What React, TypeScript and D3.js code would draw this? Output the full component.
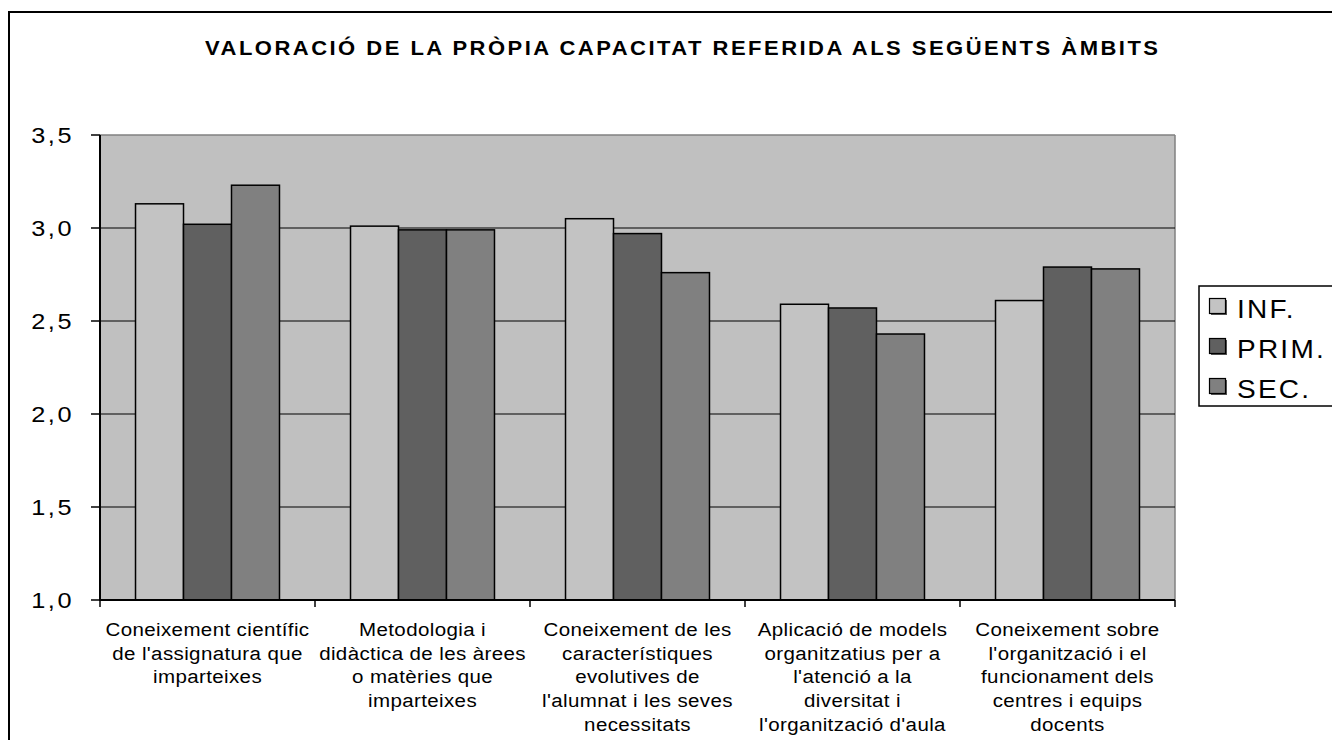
import React from "react";
import * as d3 from "d3";

const TITLE = "VALORACIÓ DE LA PRÒPIA CAPACITAT REFERIDA ALS SEGÜENTS ÀMBITS";
const categories = ["c1", "c2", "c3", "c4", "c5"];
const categoryLabels: string[][] = [
  ["Coneixement científic", "de l'assignatura que", "imparteixes"],
  ["Metodologia i", "didàctica de les àrees", "o matèries que", "imparteixes"],
  ["Coneixement de les", "característiques", "evolutives de", "l'alumnat i les seves", "necessitats"],
  ["Aplicació de models", "organitzatius per a", "l'atenció a la", "diversitat i", "l'organització d'aula"],
  ["Coneixement sobre", "l'organització i el", "funcionament dels", "centres i equips", "docents"],
];
const seriesNames = ["INF.", "PRIM.", "SEC."];
const infValues = [3.13, 3.01, 3.05, 2.59, 2.61];
const primValues = [3.02, 2.99, 2.97, 2.57, 2.79];
const secValues = [3.23, 2.99, 2.76, 2.43, 2.78];
const seriesColors = ["#c3c3c3", "#606060", "#808080"];
const yTicks = [1.0, 1.5, 2.0, 2.5, 3.0, 3.5];

export default function App() {
  const W = 1332, H = 740;
  const left = 100, right = 1175, top = 135, bottom = 600;
  const seriesValues = [infValues, primValues, secValues];

  const x0 = d3.scaleBand<string>().domain(categories).range([left, right]).padding(0);
  const x1 = d3.scaleBand<string>().domain(seriesNames).range([0, x0.bandwidth()]).paddingInner(0).paddingOuter(0.74);
  const y = d3.scaleLinear().domain([1, 3.5]).range([bottom, top]);
  const fmt = (v: number) => d3.format(".1f")(v).replace(".", ",");

  const font = "'Liberation Sans', Arial, sans-serif";
  const titleStretch = 1.1;

  return (
    <svg width={W} height={H} style={{ position: "absolute", left: 0, top: 0, background: "#fff" }} fontFamily={font}>
      {/* outer frame */}
      <rect x={9} y={12} width={1400} height={800} fill="none" stroke="#000" strokeWidth={2} />

      {/* title */}
      <g transform={`translate(205,55) scale(${titleStretch},1)`}>
        <text x={0} y={0} fontSize={20} fontWeight="bold" textLength={953 / titleStretch} lengthAdjust="spacing" fill="#000">
          {TITLE}
        </text>
      </g>

      {/* plot background */}
      <rect x={left} y={top} width={right - left} height={bottom - top} fill="#c0c0c0" />
      <line x1={left} x2={right} y1={top} y2={top} stroke="#808080" strokeWidth={1.5} />
      <line x1={right} x2={right} y1={top} y2={bottom} stroke="#808080" strokeWidth={1.5} />

      {/* gridlines */}
      {yTicks.filter((t) => t > 1 && t < 3.5).map((t) => (
        <line key={"g" + t} x1={left} x2={right} y1={y(t)} y2={y(t)} stroke="#000" strokeWidth={1.2} />
      ))}

      {/* bars */}
      {categories.map((c, ci) => (
        <g key={c} transform={`translate(${x0(c)},0)`}>
          {seriesNames.map((s, si) => {
            const v = seriesValues[si][ci];
            return (
              <rect
                key={s}
                x={x1(s)}
                y={y(v)}
                width={x1.bandwidth()}
                height={y(1) - y(v)}
                fill={seriesColors[si]}
                stroke="#000"
                strokeWidth={1.5}
              />
            );
          })}
        </g>
      ))}

      {/* y axis */}
      <line x1={left} x2={left} y1={top} y2={bottom + 1} stroke="#000" strokeWidth={2} />
      {yTicks.map((t) => (
        <g key={"t" + t}>
          <line x1={left - 9} x2={left} y1={y(t)} y2={y(t)} stroke="#000" strokeWidth={1.5} />
          <g transform={`translate(74,${y(t) + 8}) scale(1.15,1)`}>
            <text x={0} y={0} textAnchor="end" fontSize={22} letterSpacing={2.2} fill="#000">
              {fmt(t)}
            </text>
          </g>
        </g>
      ))}

      {/* x axis */}
      <line x1={left} x2={right} y1={bottom} y2={bottom} stroke="#000" strokeWidth={2} />
      {[...categories.map((c) => x0(c) as number), right].map((xv, i) => (
        <line key={"xt" + i} x1={xv} x2={xv} y1={bottom} y2={bottom + 7} stroke="#000" strokeWidth={1.5} />
      ))}
      {categories.map((c, ci) => (
        <g key={"cl" + c} transform={`translate(${(x0(c) as number) + x0.bandwidth() / 2},636) scale(1.08,1)`}>
          <text fontSize={19} letterSpacing={0.35} textAnchor="middle" fill="#000">
            {categoryLabels[ci].map((line, li) => (
              <tspan key={li} x={0} y={li * 23.7}>
                {line}
              </tspan>
            ))}
          </text>
        </g>
      ))}

      {/* legend */}
      <rect x={1199} y={286} width={200} height={120} fill="#fff" stroke="#000" strokeWidth={1.5} />
      {seriesNames.map((s, si) => (
        <g key={"lg" + s} transform={`translate(0,${si * 40})`}>
          <rect x={1211} y={300} width={16} height={15} fill="#555" />
          <rect x={1209.5} y={298.5} width={16} height={15} fill={seriesColors[si]} stroke="#000" strokeWidth={1.2} />
          <g transform="translate(1237,318) scale(1.12,1)">
            <text x={0} y={0} fontSize={25} letterSpacing={2} fill="#000">
              {s}
            </text>
          </g>
        </g>
      ))}
    </svg>
  );
}
